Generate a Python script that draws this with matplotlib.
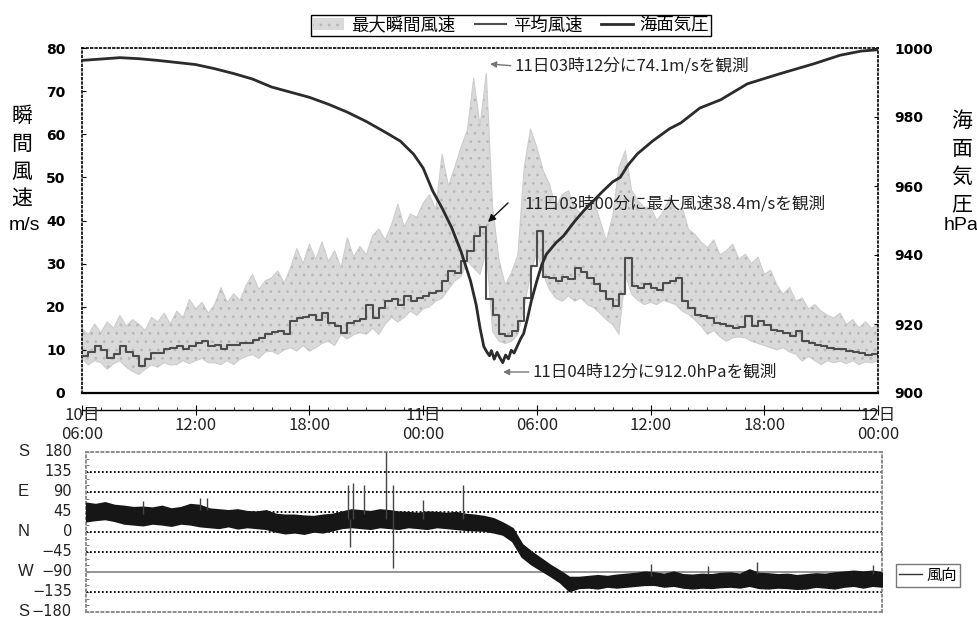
import numpy as np
import matplotlib
matplotlib.use("Agg")
import matplotlib.pyplot as plt
from matplotlib.lines import Line2D
import matplotlib.transforms as mtransforms

plt.rcParams['font.family'] = ['Noto Sans CJK JP', 'DejaVu Sans']
plt.rcParams['hatch.linewidth'] = 0.8

# hours after 10日06:00, one value every 20 minutes
step_t = np.arange(127) / 3.0

# 平均風速 (m/s), 20-minute steps
mean_ms = [
    8.5, 9.5, 10.9,  10.0, 8.1, 9.0,  10.9, 9.5, 8.5,  6.2, 8.0, 9.3,
    9.3, 10.1, 10.5,  10.9, 10.3, 11.0,  11.6, 12.0, 11.0,  11.2, 10.1, 11.2,
    11.2, 11.6, 11.6,  12.4, 12.8, 13.6,  14.1, 14.3, 13.6,  16.7, 17.4, 17.6,
    18.2, 17.0, 18.6,  16.3, 15.5, 14.0,  16.3, 16.8, 17.1,  20.5, 17.4, 19.8,
    21.3, 21.7, 20.5,  22.5, 21.3, 22.1,  22.5, 23.3, 23.6,  26.0, 28.3, 27.9,
    30.6, 32.9, 36.4,  38.4, 21.7, 18.2,  13.6, 13.2, 14.3,  16.7, 22.0, 29.5,
    37.5, 27.0, 26.7,  26.0, 27.0, 26.5,  29.1, 28.0, 26.7,  25.2, 23.6, 21.7,
    20.2, 22.9, 31.4,  24.8, 24.4, 25.2,  24.4, 24.0, 25.5,  26.0, 26.7, 21.3,
    19.8, 18.2, 17.8,  17.4, 16.3, 16.0,  15.5, 15.1, 15.3,  17.8, 15.5, 16.7,
    15.8, 14.7, 14.3,  14.0, 13.2, 14.3,  12.0, 11.6, 11.2,  10.9, 10.5, 10.1,
    10.3, 9.7, 9.5,  9.3, 8.9, 9.0,  8.9,
]

# 最大瞬間風速 (m/s): upper and lower edge of the gust trace, 20-minute steps
gust_hi = [
    15.0, 13.5, 16.0,  14.0, 16.5, 15.0,  18.0, 15.5, 17.0,  16.0, 14.5, 17.5,
    16.5, 18.5, 16.0,  19.0, 17.5, 21.7,  19.5, 21.0, 18.5,  20.5, 24.4, 21.0,
    23.0, 21.5, 25.0,  27.5, 24.0, 26.0,  26.7, 28.3, 25.5,  29.0, 33.5, 30.0,
    34.5, 31.0, 35.0,  30.5, 33.0, 29.0,  36.0, 31.5, 34.0,  32.0, 36.5, 38.0,
    35.5, 39.0, 43.8,  38.5, 41.5, 40.7,  44.0, 46.0, 42.5,  55.4, 48.0, 52.3,
    57.0, 60.9, 73.0,  62.0, 74.1, 43.0,  31.0, 25.0, 28.0,  32.0, 52.3, 61.2,
    57.0, 51.6, 48.4,  43.0, 46.0, 46.9,  43.0, 41.5, 44.0,  44.6, 40.0, 35.3,
    41.0, 52.3, 56.2,  47.0, 44.6, 43.0,  43.0, 40.0, 42.0,  45.3, 42.0, 43.0,
    38.0, 36.8, 35.0,  33.7, 35.5, 32.0,  33.0, 34.5, 31.0,  32.2, 30.0, 31.5,
    27.5, 28.5, 25.0,  22.9, 24.5, 21.3,  22.0, 19.5, 20.5,  19.0, 18.0, 17.4,
    18.5, 15.9, 17.0,  15.1, 16.5, 15.0,  15.9,
]
gust_lo = [
    8.0, 6.5, 7.5,  7.0, 5.5, 6.8,  7.5, 6.0, 5.0,  4.3, 5.5, 6.5,
    6.0, 7.0, 6.5,  6.6, 7.5, 6.8,  7.5, 8.0, 7.0,  7.0, 6.6, 7.5,
    6.6, 7.8, 8.5,  8.9, 8.0, 9.5,  9.7, 9.0, 10.0,  10.5, 9.7, 11.0,
    9.7, 10.5, 11.5,  12.0, 11.0, 13.6,  12.5, 13.5, 14.0,  13.6, 15.0, 13.6,
    16.0, 17.5, 16.5,  17.5, 19.0, 18.0,  19.5, 20.0, 21.3,  22.0, 24.0, 26.0,
    27.0, 30.6, 29.0,  27.5, 33.0, 14.3,  12.0, 11.5, 12.0,  13.6, 20.0, 27.5,
    33.0, 27.5, 24.0,  22.0, 21.3, 22.5,  21.3, 22.0, 20.5,  19.8, 18.5, 17.0,
    15.9, 13.6, 27.5,  22.9, 21.5, 20.5,  21.0, 20.5, 21.5,  21.0, 20.5, 19.0,
    18.2, 17.0, 15.5,  13.6, 14.5, 13.0,  12.0, 12.8, 13.0,  12.8, 12.0, 11.5,
    11.0, 10.5, 10.0,  10.5, 9.5, 9.0,  7.4, 8.5, 7.5,  6.6, 7.5, 7.0,
    7.4, 6.8, 7.5,  6.6, 7.2, 7.0,  7.4,
]

# 海面気圧 (hPa)
pres_t = [0, 1, 2, 3, 4, 5, 6, 7, 8, 9, 10, 11, 12, 13, 14, 15, 16, 16.8,
          17.5, 18.0, 18.5, 19.0, 19.5, 20.0, 20.5, 20.8, 21.0, 21.2, 21.35,
          21.5, 21.6, 21.75, 21.9, 22.05, 22.2, 22.35, 22.5, 22.65, 22.8,
          23.0, 23.15, 23.3, 23.5, 23.7, 24.0, 24.25, 24.5, 25.0, 25.4, 26.0,
          26.5, 27.0, 27.5, 28.0, 28.4, 28.8, 29.3, 30.1, 31.0, 31.6, 32.6,
          33.7, 35.1, 36.8, 38.6, 40.0, 41.1, 42.0]
pres_hpa = [996.4, 996.8, 997.2, 996.9, 996.4, 995.8, 995.2, 994.0, 992.6,
            991.0, 988.7, 987.2, 985.7, 983.7, 981.4, 978.7, 975.6, 973.0,
            969.2, 965.2, 958.6, 953.6, 948.0, 941.0, 932.5, 925.5, 918.9,
            913.5, 912.0, 910.8, 912.3, 909.8, 911.8, 910.2, 908.8, 911.0,
            909.9, 912.4, 911.6, 914.0, 915.8, 917.2, 921.5, 926.5, 932.5,
            937.0, 940.2, 943.5, 945.5, 949.8, 953.0, 955.8, 958.6, 961.2,
            962.5, 966.0, 969.3, 973.0, 976.6, 978.3, 982.6, 985.0, 989.6,
            992.5, 995.4, 997.9, 999.1, 999.5]

# 風向 (deg, N=0, E=90): band edges every 30 minutes
dir_t = np.arange(85) / 2.0
dir_hi = [
    65, 62,  66, 60,  58, 55,  56, 54,  58, 52,  55, 62,  60, 52,  50, 48,
    50, 46,  45, 48,  40, 38,  38, 36,  35, 38,  40, 45,  50, 48,  46, 50,
    48, 45,  44, 42,  45, 44,  42, 44,  40, 38,  35, 30,  20, 8,  -28, -45,
    -60, -75,  -88, -102,  -102, -100,  -98, -100,  -97, -95,  -93, -90,
    -92, -95,  -90, -96,  -97, -95,  -96, -93,  -92, -95,  -85, -93,
    -94, -96,  -95, -98,  -96, -94,  -95, -92,  -90, -88,  -90, -88,  -92,
]
dir_lo = [
    25, 28,  30, 26,  20, 18,  16, 20,  18, 15,  20, 18,  14, 12,  10, 14,
    9, 12,  10, 8,  2, -2,  0, -3,  2, 0,  5, 10,  12, 10,  8, 12,
    10, 8,  12, 10,  8, 12,  10, 8,  6, 5,  4, 0,  -5, -20,  -55, -72,
    -85, -98,  -112, -132,  -125, -124,  -126, -122,  -124, -122,  -120, -118,
    -118, -122,  -120, -124,  -126, -124,  -125, -123,  -122, -124,  -120, -125,
    -126, -124,  -125, -127,  -126, -122,  -124, -126,  -122, -120,  -124, -120,  -122,
]
# isolated spikes in the direction record
spike_t = [3.0, 6.0, 6.4, 13.8, 13.95, 14.1, 14.65, 15.85, 16.2, 17.8, 19.9,
           29.8, 32.8, 35.4, 41.5]
spike_lo = [40, 50, 50, 30, -33, 30, 40, 30, -82, 30, 30, -100, -95, -95, -95]
spike_hi = [70, 76, 76, 105, 30, 110, 105, 180, 105, 72, 105, -72, -76, -68, -74]

tick_hours = [0, 6, 12, 18, 24, 30, 36, 42]
tick_text = ['10日\n06:00', '12:00', '18:00', '11日\n00:00', '06:00', '12:00',
             '18:00', '12日\n00:00']

W, H = 978, 618
fig = plt.figure(figsize=(W / 100, H / 100), dpi=100)
fig.patch.set_facecolor('white')

ax = fig.add_axes([82 / W, 1 - 393 / H, 796 / W, 345 / H])
ax2 = ax.twinx()
ax.set_xlim(0, 42)
ax.set_ylim(0, 80)
ax2.set_ylim(900, 1000)

gust = ax.fill_between(step_t, gust_lo, gust_hi, facecolor='#d9d9d9',
                       edgecolor='#b8b8b8', hatch='..', lw=0, zorder=1)
ax.plot(step_t, gust_hi, color='#cdcdcd', lw=0.8, zorder=1)
ax.plot(step_t, gust_lo, color='#cdcdcd', lw=0.8, zorder=1)
mean_line, = ax.step(step_t, mean_ms, where='post', color='#4d4d4d', lw=1.5,
                     zorder=3)
pres_line, = ax2.plot(pres_t, pres_hpa, color='#2b2b2b', lw=2.0, zorder=4)

# frame
for s in ['top', 'left']:
    ax.spines[s].set_linestyle(':')
    ax.spines[s].set_linewidth(1.2)
ax.spines['right'].set_visible(False)
ax.spines['bottom'].set_position(('outward', 12))
ax.spines['bottom'].set_linewidth(1.0)
ax.axhline(0, color='black', lw=1.6, zorder=6, clip_on=False)
for s in ['top', 'left', 'bottom']:
    ax2.spines[s].set_visible(False)
ax2.spines['right'].set_linestyle(':')
ax2.spines['right'].set_linewidth(1.2)

ax.set_yticks(range(0, 81, 10))
ax.tick_params(axis='y', direction='in', length=3, pad=12, labelsize=10)
for lbl in ax.get_yticklabels():
    lbl.set_fontfamily('DejaVu Sans')
    lbl.set_fontweight('bold')
ax2.set_yticks(range(900, 1001, 20))
ax2.tick_params(axis='y', direction='in', length=3, pad=12, labelsize=10)
for lbl in ax2.get_yticklabels():
    lbl.set_fontfamily('DejaVu Sans')
    lbl.set_fontweight('bold')

ax.set_xticks(tick_hours)
ax.set_xticks(range(43), minor=True)
ax.tick_params(axis='x', which='major', direction='inout', length=7,
               labelbottom=False)
ax.tick_params(axis='x', which='minor', direction='in', length=2.5)
trans = mtransforms.blended_transform_factory(ax.transData, ax.transAxes)
for h, s in zip(tick_hours, tick_text):
    ax.text(h, -0.093, s, transform=trans, ha='center', va='center',
            fontsize=12, color='#222222', linespacing=1.1,
            family=['Liberation Sans Narrow', 'Noto Sans CJK JP'])

# axis titles
for ch, y in zip('瞬間風速', [116, 144, 172, 199]):
    fig.text(22 / W, 1 - y / H, ch, ha='center', va='center', fontsize=15)
fig.text(9 / W, 1 - 225 / H, 'm/s', ha='left', va='center', fontsize=14,
         family='Liberation Sans')
for ch, y in zip('海面気圧', [121, 149, 177, 204]):
    fig.text(962 / W, 1 - y / H, ch, ha='center', va='center', fontsize=15)
fig.text(961 / W, 1 - 226 / H, 'hPa', ha='center', va='center', fontsize=14,
         family='Liberation Sans')


def px(x, y):
    return (x - 82) / 796 * 42, (393 - y) / 345 * 80


ax.annotate('11日03時12分に74.1m/sを観測', xy=px(490, 64), xytext=px(515, 66),
            ha='left', va='center', fontsize=12, color='#222222',
            arrowprops=dict(arrowstyle='-|>', color='#777777', lw=1,
                            relpos=(0, 0.5), shrinkA=1, shrinkB=0,
                            mutation_scale=9), zorder=8)
ax.annotate('', xy=px(488, 222), xytext=px(508, 203),
            arrowprops=dict(arrowstyle='-|>', color='#111111', lw=1,
                            shrinkA=0, shrinkB=0, mutation_scale=11), zorder=8)
ax.text(*px(525, 204), '11日03時00分に最大風速38.4m/sを観測', ha='left',
        va='center', fontsize=12, color='#222222', zorder=8)
ax.annotate('11日04時12分に912.0hPaを観測', xy=px(503, 372), xytext=px(533, 372),
            ha='left', va='center', fontsize=12, color='#222222',
            arrowprops=dict(arrowstyle='-|>', color='#777777', lw=1,
                            relpos=(0, 0.5), shrinkA=1, shrinkB=0,
                            mutation_scale=9), zorder=8)

fig.legend([gust, mean_line, pres_line], ['最大瞬間風速', '平均風速', '海面気圧'],
           loc='upper center', bbox_to_anchor=(511 / W, 1 - 6 / H), ncol=3,
           fontsize=12.5, frameon=True, fancybox=False, edgecolor='black',
           handlelength=1.8, handletextpad=0.4, columnspacing=1.1,
           borderpad=0.1, framealpha=1)

# wind direction panel
ax3 = fig.add_axes([86 / W, 6 / H, 796 / W, 160 / H])
ax3.set_xlim(0, 42)
ax3.set_ylim(-180, 180)
ax3.fill_between(dir_t, dir_lo, dir_hi, facecolor='#161616',
                 edgecolor='#161616', lw=1.6, zorder=3)
dir_line, = ax3.plot([], [], color='#333333', lw=1)
ax3.vlines(spike_t, spike_lo, spike_hi, color='#444444', lw=1.0, zorder=3)
for v in [135, 90, 45, 0, -45, -135]:
    ax3.axhline(v, color='black', lw=1.3, ls=(0, (1, 1.2)), zorder=2)
ax3.axhline(-90, color='#8c8c8c', lw=1.3, zorder=2)
for s in ax3.spines.values():
    s.set_linestyle(':')
    s.set_color('#8c8c8c')
    s.set_linewidth(1.4)
ax3.set_xticks([])
ax3.set_yticks(range(-180, 181, 45))
ax3.set_yticks(range(-180, 181, 15), minor=True)
ax3.tick_params(axis='y', which='both', direction='in', length=2,
                labelleft=False, color='#666666')

dir_vals = [180, 135, 90, 45, 0, -45, -90, -135, -180]
dir_names = ['S', '', 'E', '', 'N', '', 'W', '', 'S']
for v, n in zip(dir_vals, dir_names):
    y = 532 - v / 45 * 20
    fig.text(72 / W, 1 - y / H, str(v).replace('-', '−'), ha='right',
             va='center', fontsize=10.5, color='#222222',
             family=['Liberation Sans Narrow', 'DejaVu Sans'])
    if n:
        fig.text(18 / W, 1 - y / H, n, ha='left', va='center', fontsize=12,
                 color='#222222', family='Liberation Sans')

ax3.legend([dir_line], ['風向'], loc='center left',
           bbox_to_anchor=(1.008, 0.23), fontsize=11, frameon=True,
           fancybox=False, edgecolor='#555555', handlelength=1.5,
           handletextpad=0.3, borderpad=0.2)

fig.savefig('out.png', dpi=100)
